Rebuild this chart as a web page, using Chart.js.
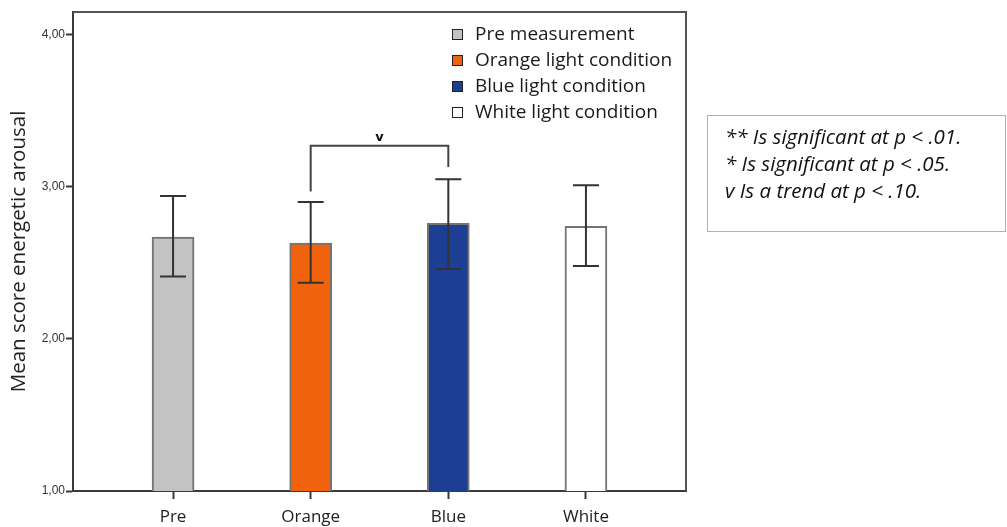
<!DOCTYPE html>
<html>
<head>
<meta charset="utf-8">
<script src="https://cdn.jsdelivr.net/npm/chart.js@4/dist/chart.umd.min.js"></script>
<style>
  html, body { margin: 0; padding: 0; background: #fff; }
  #wrap { position: relative; width: 1007px; height: 527px; }
  #note {
    position: absolute; left: 707px; top: 115px; width: 297px; height: 115px;
    border: 1px solid #b0b0b0; font-family: "Open Sans", sans-serif; font-style: italic;
    font-size: 20.5px; color: #111; box-sizing: content-box;
  }
  #note div { position: absolute; left: 17px; white-space: nowrap; line-height: 27px; }
</style>
</head>
<body>
<div id="wrap">
  <canvas id="barsX" width="1007" height="527"></canvas>
  <div id="note">
    <div style="top:7px">** Is significant at p &lt; .01.</div>
    <div style="top:34px">* Is significant at p &lt; .05.</div>
    <div style="top:61px">v Is a trend at p &lt; .10.</div>
  </div>
</div>
<script>
// category labels on the x axis and in the legend
var setLabels = ['Pre', 'Orange', 'Blue', 'White'];
var legendLabels = ['Pre measurement', 'Orange light condition', 'Blue light condition', 'White light condition'];
// mean scores and error bar ends
var setMeans = [2.67, 2.63, 2.76, 2.74];
var setErrHi = [2.94, 2.90, 3.05, 3.01];
var setErrLo = [2.41, 2.37, 2.46, 2.48];
var barColors = ['#c3c3c3', '#f0620c', '#1c3f94', '#ffffff'];
// y axis ticks
var yTicks = [1, 2, 3, 4];
// significance bracket between Orange (1) and Blue (2)
var bracketFrom = 1, bracketTo = 2;
var bracketTop = 3.27, bracketLeftEnd = 2.97, bracketRightEnd = 3.13;
var bracketMark = 'v';

var ink = '#3a3a3a';

var extrasPlugin = {
    id: 'extras',
    afterDatasetsDraw: function (chart) {
        var ctx = chart.ctx, xs = chart.scales.x, ys = chart.scales.y, a = chart.chartArea;
        ctx.save();
        // error bars
        ctx.strokeStyle = '#333';
        ctx.lineWidth = 2;
        for (var i = 0; i < setMeans.length; i++) {
            var x = xs.getPixelForValue(i);
            var yh = ys.getPixelForValue(setErrHi[i]);
            var yl = ys.getPixelForValue(setErrLo[i]);
            ctx.beginPath();
            ctx.moveTo(x, yh); ctx.lineTo(x, yl);
            ctx.moveTo(x - 13, yh); ctx.lineTo(x + 13, yh);
            ctx.moveTo(x - 13, yl); ctx.lineTo(x + 13, yl);
            ctx.stroke();
        }
        // bracket
        var x1 = xs.getPixelForValue(bracketFrom), x2 = xs.getPixelForValue(bracketTo);
        var yt = ys.getPixelForValue(bracketTop);
        ctx.strokeStyle = '#444';
        ctx.beginPath();
        ctx.moveTo(x1, ys.getPixelForValue(bracketLeftEnd));
        ctx.lineTo(x1, yt); ctx.lineTo(x2, yt);
        ctx.lineTo(x2, ys.getPixelForValue(bracketRightEnd));
        ctx.stroke();
        ctx.fillStyle = '#111';
        ctx.font = 'bold 13px "DejaVu Sans"';
        ctx.textAlign = 'center';
        ctx.textBaseline = 'bottom';
        ctx.fillText(bracketMark, (x1 + x2) / 2, yt - 2);

        // frame top and right
        ctx.strokeStyle = '#555';
        ctx.beginPath();
        ctx.moveTo(a.left, a.top); ctx.lineTo(a.right, a.top); ctx.lineTo(a.right, a.bottom);
        ctx.stroke();

        // legend inside plot
        ctx.font = '19px "Open Sans"';
        ctx.textAlign = 'left';
        ctx.textBaseline = 'middle';
        for (var k = 0; k < legendLabels.length; k++) {
            var ly = 35 + k * 26;
            ctx.fillStyle = barColors[k];
            ctx.fillRect(452, ly - 6, 11, 11);
            ctx.strokeStyle = '#222';
            ctx.lineWidth = 1;
            ctx.strokeRect(452.5, ly - 5.5, 10, 10);
            ctx.fillStyle = '#1a1a1a';
            ctx.fillText(legendLabels[k], 475, ly);
        }
        ctx.restore();
    }
};

var ctxb = document.getElementById('barsX').getContext('2d');
var chartBars = new Chart(ctxb, {
    type: 'bar',
    plugins: [extrasPlugin],
    data: {
        datasets: [{
            data: setMeans.map(function (v, i) { return {x: i, y: v}; }),
            backgroundColor: barColors,
            borderColor: '#747474',
            borderWidth: 2,
            barThickness: 42
        }]
    },
    options: {
        responsive: false,
        animation: false,
        layout: {padding: {left: 0, top: 12, right: 321, bottom: 0}},
        plugins: {legend: {display: false}, tooltip: {enabled: false}},
        scales: {
            x: {
                type: 'linear',
                offset: false,
                min: -0.727,
                max: 3.727,
                afterBuildTicks: function (scale) {
                    scale.ticks = setLabels.map(function (l, i) { return {value: i}; });
                },
                afterFit: function (scale) { scale.height = 36; },
                ticks: {
                    callback: function (v) { return setLabels[v]; },
                    font: {family: 'Open Sans', size: 17},
                    color: '#222',
                    padding: 8,
                    maxRotation: 0,
                    autoSkip: false
                },
                grid: {offset: false, drawOnChartArea: false, tickLength: 8, tickColor: ink, tickWidth: 2},
                border: {color: ink, width: 2}
            },
            y: {
                min: 1,
                max: 4.15,
                afterBuildTicks: function (scale) {
                    scale.ticks = yTicks.map(function (v) { return {value: v}; });
                },
                afterFit: function (scale) { scale.width = 73; },
                ticks: {
                    callback: function (v) { return v.toFixed(2).replace('.', ','); },
                    font: {family: 'Liberation Sans', size: 12},
                    color: '#333',
                    padding: 1
                },
                grid: {drawOnChartArea: false, tickLength: 7, tickColor: ink, tickWidth: 2},
                border: {color: ink, width: 2},
                title: {
                    display: true,
                    text: 'Mean score energetic arousal',
                    font: {family: 'Open Sans', size: 20.5},
                    color: '#222',
                    padding: {top: 7, bottom: 0}
                }
            }
        }
    }
});
</script>
</body>
</html>
